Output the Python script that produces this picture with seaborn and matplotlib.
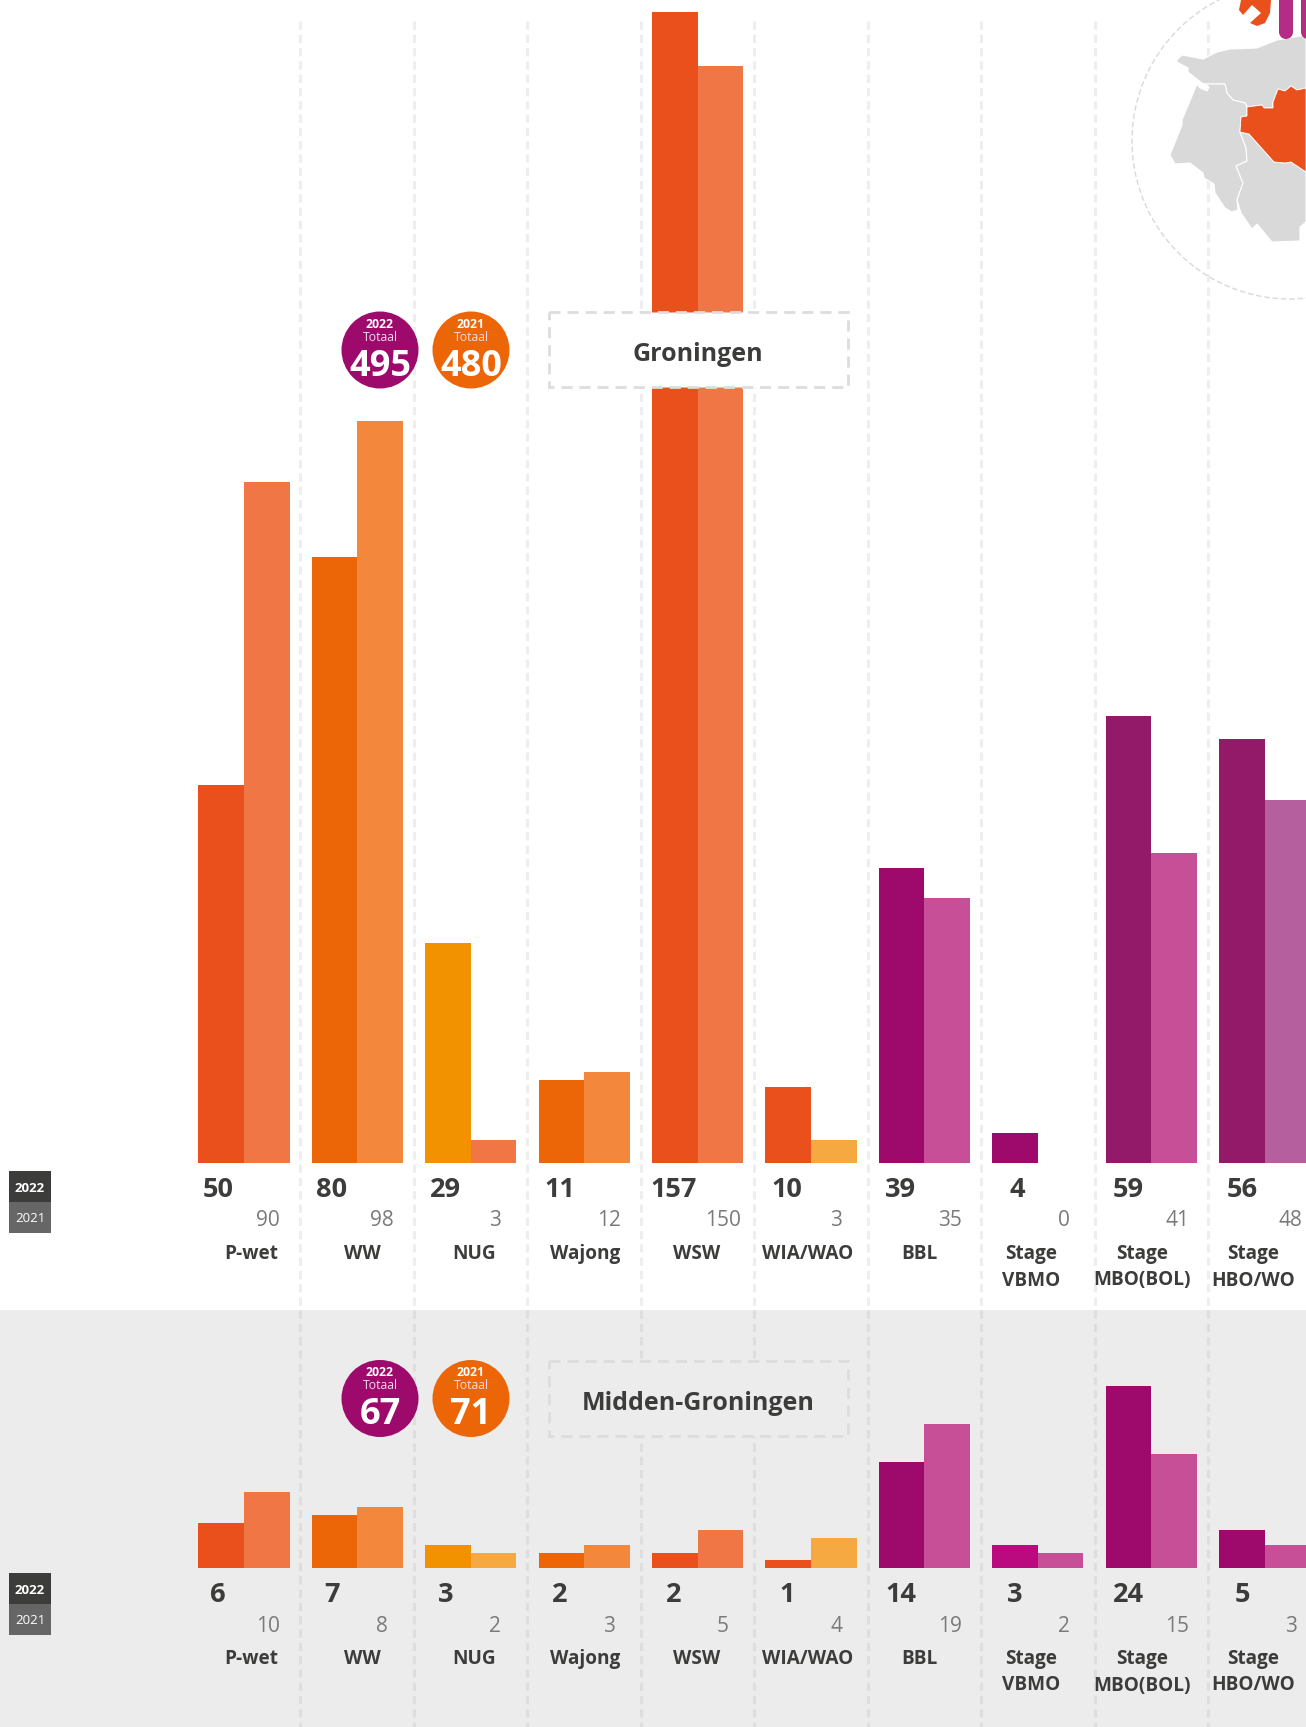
import seaborn as sns
import pandas as pd
import matplotlib.pyplot as plt
from matplotlib.patches import Circle, Polygon, Rectangle

sns.set_theme(style="white")
plt.rcParams['font.family'] = ['Open Sans', 'DejaVu Sans']

W, H = 1306, 1727
DARK = "#3c3c3b"
GREY = "#7a7a7a"

# Categories
categories = ["P-wet", "WW", "NUG", "Wajong", "WSW", "WIA/WAO", "BBL", "Stage\nVBMO", "Stage\nMBO(BOL)", "Stage\nHBO/WO"]

# Groningen
gron_2022 = [50, 80, 29, 11, 157, 10, 39, 4, 59, 56]
gron_2021 = [90, 98, 3, 12, 150, 3, 35, 0, 41, 48]
# the WSW bars are cut short in the picture, so they get their own drawn height
gron_drawn_2022 = [50, 80, 29, 11, 152, 10, 39, 4, 59, 56]
gron_drawn_2021 = [90, 98, 3, 12, 144.9, 3, 35, 0, 41, 48]
gron_total = [495, 480]

# Midden-Groningen
midden_2022 = [6, 7, 3, 2, 2, 1, 14, 3, 24, 5]
midden_2021 = [10, 8, 2, 3, 5, 4, 19, 2, 15, 3]
midden_total = [67, 71]

gron_colors_2022 = ["#ea501c", "#ec6608", "#f39200", "#ec6608", "#ea501c", "#ea501c", "#9e0a6b", "#9e0a6b", "#931a68", "#931a68"]
gron_colors_2021 = ["#f07745", "#f3883d", "#f07745", "#f3883d", "#f07745", "#f7a941", "#c64f97", "#c64f97", "#c64f97", "#b55f9f"]
midden_colors_2022 = ["#ea501c", "#ec6608", "#f39200", "#ec6608", "#ea501c", "#ea501c", "#9e0a6b", "#bb0a80", "#9e0a6b", "#9e0a6b"]
midden_colors_2021 = ["#f07745", "#f3883d", "#f7a941", "#f3883d", "#f07745", "#f7a941", "#c64f97", "#c64f97", "#c64f97", "#c64f97"]

PX_PER_UNIT = 7.57
FIRST_X = 244
STEP = 113.4


def px_axes(fig, top, bottom):
    # axes placed with pixel numbers, y counted from the top of the image
    return fig.add_axes([0, 1 - bottom / H, 1, (bottom - top) / H])


def draw_panel(fig, top, baseline, drawn_22, drawn_21, col_22, col_21):
    ax = px_axes(fig, top, baseline)
    ax.patch.set_alpha(0)
    df = pd.DataFrame({
        "cat": categories * 2,
        "year": ["2022"] * 10 + ["2021"] * 10,
        "value": list(drawn_22) + list(drawn_21),
    })
    sns.barplot(data=df, x="cat", y="value", hue="year", hue_order=["2022", "2021"],
                width=0.805, legend=False, ax=ax, saturation=1)
    for cont, cols in zip(ax.containers, [col_22, col_21]):
        for bar, c in zip(cont, cols):
            bar.set_facecolor(c)
            bar.set_edgecolor("none")
    ax.set_xlim((0 - FIRST_X) / STEP, (W - FIRST_X) / STEP)
    ax.set_ylim(0, (baseline - top) / PX_PER_UNIT)
    ax.axis("off")
    return ax


def panel_labels(ax, baseline, vals_22, vals_21, nudge=None):
    nudge = nudge or {}
    for i in range(10):
        ax.text(218 + 113.8 * i + nudge.get(i, 0), baseline + 27, str(vals_22[i]), fontsize=19.5, fontweight="bold",
                color=DARK, ha="center", va="center")
        ax.text(268 + 113.65 * i, baseline + 58, str(vals_21[i]), fontsize=15, color=GREY, ha="center", va="center")
        for j, line in enumerate(categories[i].split("\n")):
            ax.text(251 + 111.4 * i, baseline + 91 + j * 26.5, line, fontsize=13.7,
                    fontweight="bold", color=DARK, ha="center", va="center")


def year_tag(ax, y):
    ax.add_patch(Rectangle((9, y), 42, 31, fc=DARK, ec="none"))
    ax.add_patch(Rectangle((9, y + 31), 42, 31, fc="#666666", ec="none"))
    ax.text(30, y + 17, "2022", fontsize=9.5, fontweight="bold", color="white", ha="center", va="center")
    ax.text(30, y + 48, "2021", fontsize=9.5, color="white", ha="center", va="center")


def badge(ax, x, y, year, total, color):
    ax.add_patch(Circle((x, y), 38.5, fc=color, ec="none"))
    ax.text(x, y - 26, year, fontsize=8.8, fontweight="bold", color="white", ha="center", va="center")
    ax.text(x, y - 13, "Totaal", fontsize=8.8, color="#f6dcea", ha="center", va="center")
    ax.text(x, y + 16.5, str(total), fontsize=26, fontweight="bold", color="white", ha="center", va="center")


fig = plt.figure(figsize=(W / 100, H / 100), dpi=100, facecolor="white")

# background: grey band, dashed column lines, map
bg = fig.add_axes([0, 0, 1, 1])
bg.set_xlim(0, W)
bg.set_ylim(H, 0)
bg.axis("off")
bg.add_patch(Rectangle((0, 1310), W, H - 1310, fc="#ececec", ec="none", zorder=1))
for i in range(9):
    x = 300 + 113.5 * i
    bg.plot([x, x], [21, 1310], color="#eeeeee", lw=2.2, ls=(0, (2.7, 1.65)), zorder=2)
    bg.plot([x, x], [1310, H], color="#dedede", lw=2.2, ls=(0, (2.7, 1.65)), zorder=2)

bg.add_patch(Circle((1290, 141), 158, fc="none", ec="#d9d9d9", lw=1, ls=(0, (4, 2)), zorder=3))
north = [(1177, 62), (1177, 60), (1182, 55), (1193, 57), (1203, 59), (1217, 52), (1230, 49), (1257, 48), (1277, 40),
         (1306, 35), (1306, 88), (1297, 90), (1291, 86), (1285, 91), (1278, 89), (1273, 102), (1273, 108), (1264, 108),
         (1262, 105), (1247, 107), (1245, 103), (1233, 100), (1227, 93), (1225, 84), (1205, 84), (1202, 83), (1188, 72),
         (1188, 68)]
west = [(1197, 84), (1200, 88), (1207, 91), (1209, 87), (1205, 84), (1225, 84), (1227, 93), (1233, 100), (1245, 103),
        (1247, 107), (1247, 116), (1241, 117), (1240, 132), (1246, 148), (1247, 161), (1236, 166), (1243, 183),
        (1237, 200), (1238, 210), (1232, 212), (1225, 208), (1215, 193), (1214, 184), (1204, 178), (1203, 173),
        (1190, 163), (1175, 164), (1170, 155), (1182, 125), (1182, 120)]
south = [(1240, 132), (1249, 134), (1274, 162), (1285, 163), (1291, 162), (1306, 172), (1306, 222), (1300, 227),
         (1300, 241), (1272, 242), (1257, 224), (1252, 229), (1241, 213), (1237, 200), (1243, 183), (1236, 166),
         (1247, 161), (1246, 148)]
region = [(1247, 107), (1262, 105), (1264, 108), (1273, 108), (1273, 102), (1278, 89), (1285, 91), (1291, 86),
          (1297, 90), (1306, 88), (1306, 172), (1291, 162), (1285, 163), (1274, 162), (1249, 134), (1240, 132),
          (1241, 117), (1247, 116)]
for shape in [north, west, south]:
    bg.add_patch(Polygon(shape, closed=True, fc="#d9d9d9", ec="white", lw=0.8, zorder=4))
bg.add_patch(Polygon(region, closed=True, fc="#ea501c", ec="white", lw=0.6, zorder=5))

# spanner and pins from the icon above the map
spanner = [(1241, 0), (1239, 10), (1243, 15), (1252, 5), (1261, 13), (1250, 23), (1257, 26), (1265, 23), (1270, 13), (1271, 0)]
bg.add_patch(Polygon(spanner, closed=True, fc="#ea501c", ec="none", zorder=6))
for px in [1286, 1308]:
    bg.add_patch(Rectangle((px - 7, -5), 14, 37, fc="#b52c87", ec="none", zorder=6))
    bg.add_patch(Circle((px, 32), 7, fc="#b52c87", ec="none", zorder=6))

draw_panel(fig, 0, 1163, gron_drawn_2022, gron_drawn_2021, gron_colors_2022, gron_colors_2021)
draw_panel(fig, 1310, 1568, midden_2022, midden_2021, midden_colors_2022, midden_colors_2021)

# overlay: text, badges, title boxes
top = fig.add_axes([0, 0, 1, 1])
top.set_xlim(0, W)
top.set_ylim(H, 0)
top.axis("off")
top.patch.set_alpha(0)

panel_labels(top, 1163, gron_2022, gron_2021, nudge={7: 3})
panel_labels(top, 1568, midden_2022, midden_2021)
year_tag(top, 1171)
year_tag(top, 1573)
badge(top, 380, 350, "2022", gron_total[0], "#9e0a6b")
badge(top, 471, 350, "2021", gron_total[1], "#ec6608")
badge(top, 380, 1398.5, "2022", midden_total[0], "#9e0a6b")
badge(top, 471, 1398.5, "2021", midden_total[1], "#ec6608")

top.add_patch(Rectangle((548.5, 312), 299.5, 75, fc="white", ec="#dddddd", lw=2, ls=(0, (4, 2.5))))
top.text(698, 354, "Groningen", fontsize=18, fontweight="bold", color=DARK, ha="center", va="center")
top.add_patch(Rectangle((548.5, 1361), 299.5, 75, fc="#ececec", ec="#dddddd", lw=2, ls=(0, (4, 2.5))))
top.text(698, 1403, "Midden-Groningen", fontsize=18, fontweight="bold", color=DARK, ha="center", va="center")

plt.savefig("out.png", dpi=100)
